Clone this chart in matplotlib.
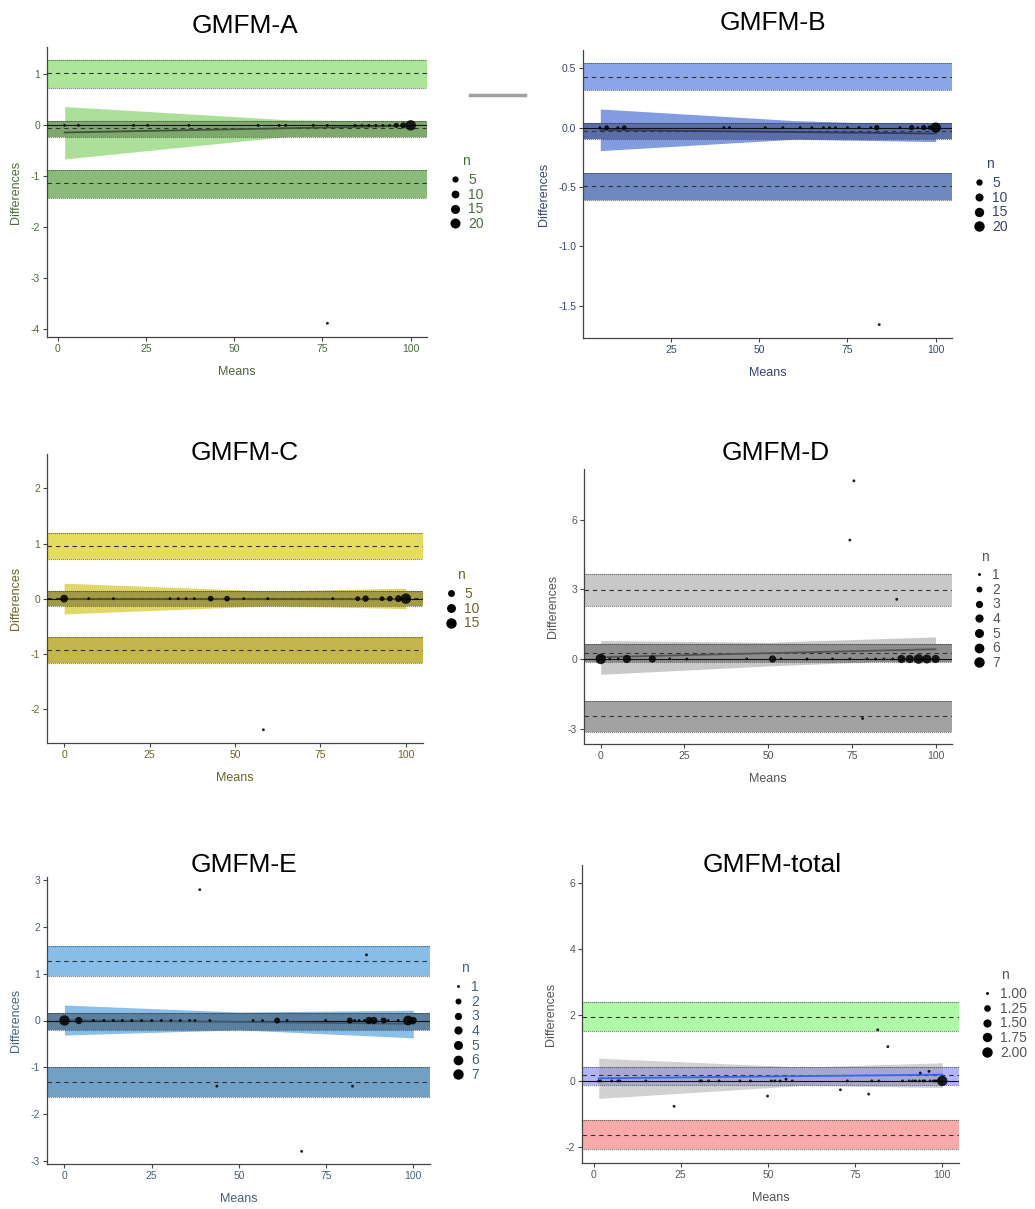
import matplotlib
matplotlib.use('Agg')
import numpy as np
import matplotlib.pyplot as plt
from matplotlib.lines import Line2D

plt.rcParams['font.family'] = ['Liberation Sans', 'DejaVu Sans']
plt.rcParams['axes.unicode_minus'] = False

W, H = 1035, 1209

# ---------------- GMFM-A ----------------
a_means = [1.9, 5.9, 21.5, 25.5, 37.2, 56.8, 62.7, 64.6, 72.4, 76.4, 84.2, 86.2,
           88.1, 90.1, 92.1, 94.0, 95.9, 97.9, 100.0, 76.4]
a_diffs = [0, 0, 0, 0, 0, 0, 0, 0, 0, 0, 0, 0, 0, 0, 0, 0, 0, 0, 0, -3.89]
a_n = [1, 1, 1, 1, 1, 1, 1, 1, 1, 1, 1, 1, 1, 1, 1, 1, 3, 5, 22, 1]
a_bias = [-0.059, -0.222, 0.085]      # mean, ci low, ci high
a_upper = [1.02, 0.74, 1.29]
a_lower = [-1.14, -1.42, -0.88]
a_fan_x = [2, 65, 100]
a_fan_lo = [-0.66, -0.22, -0.10]
a_fan_hi = [0.37, 0.11, 0.08]
a_reg = [-0.14, -0.01]

# ---------------- GMFM-B ----------------
b_means = [4.9, 6.8, 10.0, 11.8, 40.0, 41.6, 51.7, 56.7, 61.6, 64.9, 68.2, 69.9,
           71.6, 75.0, 78.3, 81.6, 83.3, 89.9, 93.2, 94.9, 96.6, 98.3, 100.0, 84.0]
b_diffs = [0, 0, 0, 0, 0, 0, 0, 0, 0, 0, 0, 0, 0, 0, 0, 0, 0, 0, 0, 0, 0, 0, 0, -1.66]
b_n = [1, 2, 1, 2, 1, 1, 1, 1, 1, 1, 1, 1, 1, 1, 1, 1, 3, 1, 3, 1, 3, 2, 20, 1]
b_bias = [-0.03, -0.098, 0.037]
b_upper = [0.43, 0.317, 0.542]
b_lower = [-0.49, -0.609, -0.379]
b_fan_x = [5, 60, 100]
b_fan_lo = [-0.194, -0.098, -0.118]
b_fan_hi = [0.157, 0.059, 0.022]
b_reg = [-0.02, -0.05]

# ---------------- GMFM-C ----------------
c_means = [0.0, 7.2, 14.4, 31.0, 33.4, 35.7, 38.1, 42.9, 47.7, 52.6, 59.6, 78.6,
           85.9, 88.2, 93.0, 95.3, 97.8, 100.0, 58.3]
c_diffs = [0, 0, 0, 0, 0, 0, 0, 0, 0, 0, 0, 0, 0, 0, 0, 0, 0, 0, -2.38]
c_n = [7, 1, 1, 1, 1, 1, 1, 3, 3, 1, 1, 1, 2, 4, 2, 3, 5, 15, 1]
c_bias = [0.005, -0.133, 0.145]
c_upper = [0.953, 0.716, 1.19]
c_lower = [-0.933, -1.17, -0.70]
c_fan_x = [0, 60, 100]
c_fan_lo = [-0.278, -0.13, -0.18]
c_fan_hi = [0.28, 0.14, 0.19]
c_reg = [0.0, 0.0]

# ---------------- GMFM-D ----------------
d_means = [0.0, 2.7, 5.2, 7.8, 15.4, 20.6, 25.7, 43.6, 51.3, 53.8, 61.6, 69.2,
           74.4, 79.5, 82.1, 84.6, 87.2, 89.8, 92.3, 94.9, 97.4, 100.0,
           75.6, 74.4, 88.4, 78.2]
d_diffs = [0, 0, 0, 0, 0, 0, 0, 0, 0, 0, 0, 0, 0, 0, 0, 0, 0, 0, 0, 0, 0, 0,
           7.67, 5.12, 2.57, -2.56]
d_n = [7, 1, 1, 4, 3, 1, 1, 1, 3, 1, 1, 1, 1, 1, 1, 1, 1, 4, 4, 6, 5, 4,
       1, 1, 1, 1]
d_bias = [0.27, -0.14, 0.66]
d_upper = [2.99, 2.30, 3.66]
d_lower = [-2.46, -3.15, -1.81]
d_fan_x = [0, 50, 100]
d_fan_lo = [-0.66, -0.30, -0.01]
d_fan_hi = [0.79, 0.72, 0.95]
d_reg = [0.08, 0.42]

# ---------------- GMFM-E ----------------
e_means = [0.0, 4.1, 8.3, 11.3, 14.0, 16.6, 19.3, 22.1, 25.0, 27.8, 30.5, 33.2,
           35.9, 37.4, 41.7, 54.1, 56.8, 61.0, 63.8, 74.9, 81.8, 83.2, 84.5,
           86.0, 87.3, 88.7, 91.5, 92.8, 95.7, 98.5, 100.0,
           38.8, 86.6, 43.7, 82.6, 68.0]
e_diffs = [0, 0, 0, 0, 0, 0, 0, 0, 0, 0, 0, 0, 0, 0, 0, 0, 0, 0, 0, 0, 0, 0, 0,
           0, 0, 0, 0, 0, 0, 0, 0,
           2.79, 1.40, -1.40, -1.40, -2.79]
e_n = [7, 3, 1, 1, 1, 1, 1, 1, 1, 1, 1, 1, 1, 1, 1, 1, 1, 2, 1, 1, 2, 1, 1,
       1, 3, 3, 2, 1, 1, 6, 3,
       1, 1, 1, 1, 1]
e_bias = [-0.02, -0.21, 0.16]
e_upper = [1.26, 0.95, 1.59]
e_lower = [-1.32, -1.64, -1.00]
e_fan_x = [0, 50, 100]
e_fan_lo = [-0.31, -0.20, -0.37]
e_fan_hi = [0.33, 0.18, 0.22]
e_reg = [0.01, -0.07]

# ---------------- GMFM-total ----------------
t_means = [1.5, 2.0, 5.2, 7.0, 7.5, 15.0, 30.5, 31.0, 33.0, 36.0, 42.0, 45.0,
           51.0, 52.0, 53.5, 57.0, 72.8, 79.8, 81.8, 88.6, 90.5, 91.5, 92.3,
           93.5, 94.5, 95.0, 96.5, 97.5, 98.0, 98.5, 99.0, 100.0,
           23.1, 49.9, 55.2, 70.8, 78.9, 81.5, 84.4, 93.7, 96.2]
t_diffs = [0, 0, 0, 0, 0, 0, 0, 0, 0, 0, 0, 0, 0, 0, 0, 0, 0, 0, 0, 0, 0, 0, 0,
           0, 0, 0, 0, 0, 0, 0, 0, 0,
           -0.77, -0.46, 0.05, -0.27, -0.40, 1.55, 1.04, 0.24, 0.29]
t_n = [1, 1, 1, 1, 1, 1, 1, 1, 1, 1, 1, 1, 1, 1, 1, 1, 1, 1, 1, 1, 1, 1, 1,
       1, 1, 1, 1, 1, 1, 1, 1, 2,
       1, 1, 1, 1, 1, 1, 1, 1, 1]
t_bias = [0.17, -0.11, 0.415]
t_upper = [1.94, 1.50, 2.40]
t_lower = [-1.63, -2.08, -1.19]
t_fan_x = [1.5, 60, 100]
t_fan_lo = [-0.53, -0.14, -0.20]
t_fan_hi = [0.69, 0.42, 0.55]
t_reg = [0.08, 0.19]

a_leg = [5, 10, 15, 20]
b_leg = [5, 10, 15, 20]
c_leg = [5, 10, 15]
d_leg = [1, 2, 3, 4, 5, 6, 7]
e_leg = [1, 2, 3, 4, 5, 6, 7]
t_leg = [1.00, 1.25, 1.50, 1.75, 2.00]
t_leg_lab = ['1.00', '1.25', '1.50', '1.75', '2.00']

fig = plt.figure(figsize=(W / 100, H / 100), dpi=100)


def px_axes(left, right, top, bottom):
    return fig.add_axes([left / W, 1 - bottom / H, (right - left) / W, (bottom - top) / H])


def diam(n, nmin, nmax):
    t = (np.asarray(n, float) - nmin) / (nmax - nmin)
    t = np.clip(t, 0, 1)
    return 1.4 + 1.5 * (1 + 5 * np.sqrt(t))   # pixels


def panel(ax, means, diffs, n, bias, upper, lower, fan_x, fan_lo, fan_hi, reg,
          cols, tcol, xlim, ylim, yticks, yfmt, xticks, fan_on_top=False,
          regcol='#3a4a3a'):
    up_c, mid_c, lo_c, fan_c = cols
    ax.axhspan(upper[1], upper[2], color=up_c, lw=0, zorder=1)
    ax.axhspan(lower[1], lower[2], color=lo_c, lw=0, zorder=1)
    if fan_on_top:
        ax.axhspan(bias[1], bias[2], color=mid_c, lw=0, zorder=1)
        ax.fill_between(fan_x, fan_lo, fan_hi, color=fan_c, alpha=0.45, lw=0, zorder=2)
    else:
        ax.fill_between(fan_x, fan_lo, fan_hi, color=fan_c, alpha=0.9, lw=0, zorder=1)
        ax.axhspan(bias[1], bias[2], color=mid_c, lw=0, zorder=2)
    for v in (upper[1], upper[2], lower[1], lower[2], bias[1], bias[2]):
        ax.axhline(v, color='#222222', lw=0.8, ls=(0, (0.6, 1.2)), zorder=3)
    for v in (upper[0], lower[0], bias[0]):
        ax.axhline(v, color='#333333', lw=0.8, ls=(0, (4, 3.5)), zorder=3)
    ax.axhline(0, color='#111111', lw=0.8, zorder=3)
    ax.plot([fan_x[0], fan_x[-1]], reg, color=regcol, lw=1.3, zorder=4)
    d = diam(n, min(n), max(n))
    ax.scatter(means, diffs, s=(d * 0.72) ** 2, color='black', alpha=0.85,
               lw=0, zorder=5)
    ax.set_xlim(*xlim)
    ax.set_ylim(*ylim)
    ax.set_xticks(xticks)
    ax.set_yticks(yticks)
    ax.set_yticklabels([yfmt % v for v in yticks])
    for s in ('top', 'right'):
        ax.spines[s].set_visible(False)
    for s in ('left', 'bottom'):
        ax.spines[s].set_color('#444444')
        ax.spines[s].set_linewidth(0.9)
    ax.tick_params(length=3, width=0.8, color='#444444', labelsize=7.5,
                   labelcolor=tcol, pad=2)
    ax.set_xlabel('Means', fontsize=9, color=tcol, labelpad=8.5)
    ax.set_ylabel('Differences', fontsize=9, color=tcol, labelpad=6)


def legend(ax, vals, labels, nmin, nmax, tcol, x_dot, y_first, x_title, y_title):
    d = diam(vals, nmin, nmax)
    handles = [Line2D([], [], ls='', marker='o', color='black',
                      markersize=di * 0.72, markeredgewidth=0) for di in d]
    leg = ax.legend(handles, labels, loc='upper left',
                    bbox_to_anchor=((x_dot - 7) / W, 1 - (y_first - 7) / H),
                    bbox_transform=fig.transFigure, frameon=False,
                    fontsize=10, handlelength=1.0, handletextpad=0.45,
                    labelspacing=0.05, borderpad=0, borderaxespad=0)
    for t in leg.get_texts():
        t.set_color(tcol)
    fig.text(x_title / W, 1 - y_title / H, 'n', fontsize=10, color=tcol,
             ha='left', va='center')


def title(txt, xc, yb):
    fig.text(xc / W, 1 - yb / H, txt, ha='center', va='baseline', fontsize=19)


# GMFM-A
ax = px_axes(47, 427, 47, 337)
panel(ax, a_means, a_diffs, a_n, a_bias, a_upper, a_lower, a_fan_x, a_fan_lo,
      a_fan_hi, a_reg, ('#ade69b', '#7fa86e', '#8bbb7a', '#a3dc8f'), '#4c6b3f',
      (-3.0, 104.6), (-4.16, 1.54), [-4, -3, -2, -1, 0, 1], '%d', [0, 25, 50, 75, 100],
      regcol='#3d5436')
legend(ax, a_leg, [str(v) for v in a_leg], 1, 22, '#4c6b3f', 455, 180, 462, 161)
title('GMFM-A', 245, 33)

# GMFM-B
ax = px_axes(583, 952, 50, 338)
panel(ax, b_means, b_diffs, b_n, b_bias, b_upper, b_lower, b_fan_x, b_fan_lo,
      b_fan_hi, b_reg, ('#8aa6e8', '#5b6ea8', '#7088c0', '#7690dc'), '#36466f',
      (0.1, 104.6), (-1.773, 0.654), [-1.5, -1.0, -0.5, 0.0, 0.5], '%.1f', [25, 50, 75, 100],
      regcol='#2e3a5e')
legend(ax, b_leg, [str(v) for v in b_leg], 1, 20, '#36466f', 979, 183, 986, 164)
title('GMFM-B', 773, 30.5)

# GMFM-C
ax = px_axes(47, 423, 454, 743)
panel(ax, c_means, c_diffs, c_n, c_bias, c_upper, c_lower, c_fan_x, c_fan_lo,
      c_fan_hi, c_reg, ('#e6dc60', '#a39a48', '#c4b64c', '#ddd35a'), '#6d6428',
      (-5.0, 105.0), (-2.62, 2.625), [-2, -1, 0, 1, 2], '%d', [0, 25, 50, 75, 100],
      regcol='#5e5826')
legend(ax, c_leg, [str(v) for v in c_leg], 1, 15, '#6d6428', 451, 594, 457, 575)
title('GMFM-C', 245, 460)

# GMFM-D
ax = px_axes(584, 952, 469, 744)
panel(ax, d_means, d_diffs, d_n, d_bias, d_upper, d_lower, d_fan_x, d_fan_lo,
      d_fan_hi, d_reg, ('#c8c8c8', '#8e8e8e', '#a2a2a2', '#c4c4c4'), '#555555',
      (-5.0, 104.9), (-3.66, 8.18), [-3, 0, 3, 6], '%d', [0, 25, 50, 75, 100],
      regcol='#555555')
legend(ax, d_leg, [str(v) for v in d_leg], 1, 7, '#555555', 979, 575, 981, 556.5)
title('GMFM-D', 776, 459.5)

# GMFM-E
ax = px_axes(47, 430, 877, 1164)
panel(ax, e_means, e_diffs, e_n, e_bias, e_upper, e_lower, e_fan_x, e_fan_lo,
      e_fan_hi, e_reg, ('#88bde8', '#5b7f9e', '#729fc4', '#80b8e6'), '#45607d',
      (-5.0, 104.8), (-3.06, 3.06), [-3, -2, -1, 0, 1, 2, 3], '%d', [0, 25, 50, 75, 100],
      regcol='#3e5a72')
legend(ax, e_leg, [str(v) for v in e_leg], 1, 7, '#45607d', 458, 987, 461, 967.5)
title('GMFM-E', 244.5, 872)

# GMFM-total
ax = px_axes(582, 959, 865, 1163)
panel(ax, t_means, t_diffs, t_n, t_bias, t_upper, t_lower, t_fan_x, t_fan_lo,
      t_fan_hi, t_reg, ('#b0f9a8', '#b3b3ff', '#f8aaaa', '#9a9a9a'), '#555555',
      (-3.3, 104.8), (-2.49, 6.55), [-2, 0, 2, 4, 6], '%d', [0, 25, 50, 75, 100],
      fan_on_top=True, regcol='#3366ff')
legend(ax, t_leg, t_leg_lab, 1, 2, '#555555', 987, 994, 1001, 975)
title('GMFM-total', 772.5, 871.5)

# stray grey bar between the first two panels
fig.add_artist(Line2D([470 / W, 525 / W], [1 - 94.5 / H, 1 - 94.5 / H],
                      color='#a0a0a0', lw=2.5))

fig.savefig('out.png', dpi=100, facecolor='white')
